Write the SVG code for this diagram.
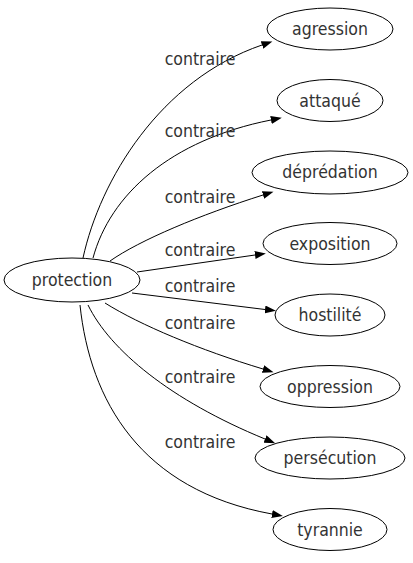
<svg xmlns="http://www.w3.org/2000/svg" width="413" height="563" viewBox="0 0 413 563">
<defs>
<style>
.n ellipse{fill:#fff;stroke:#000;stroke-width:1}
text{font-family:"DejaVu Sans Condensed","DejaVu Sans",sans-serif;font-stretch:condensed;font-size:17.5px;fill:#333;text-anchor:middle}
.e path{fill:none;stroke:#000;stroke-width:1}
</style>
<marker id="arr" markerWidth="12" markerHeight="8" refX="0" refY="4" orient="auto" markerUnits="userSpaceOnUse"><path d="M0,0 L11,4 L0,8 z" fill="#000"/></marker>
</defs>
<rect width="413" height="563" fill="#fff"/>
<g id="edges" class="e">
<path d="M83,258 C100,180 160,80 262,45" marker-end="url(#arr)"/>
<path d="M93,258 C110,195 170,140 271,120" marker-end="url(#arr)"/>
<path d="M110,261 C140,240 200,215 263,195" marker-end="url(#arr)"/>
<path d="M137,272 L255,255" marker-end="url(#arr)"/>
<path d="M132,293 L265,309.5" marker-end="url(#arr)"/>
<path d="M105,303 C140,325 200,350 263,369" marker-end="url(#arr)"/>
<path d="M88,305 C110,350 170,400 265,439" marker-end="url(#arr)"/>
<path d="M80,305 C90,400 140,490 272,514" marker-end="url(#arr)"/>
<text x="200" y="65">contraire</text>
<text x="200" y="137">contraire</text>
<text x="200" y="203">contraire</text>
<text x="200" y="256">contraire</text>
<text x="200" y="292">contraire</text>
<text x="200" y="329">contraire</text>
<text x="200" y="383">contraire</text>
<text x="200" y="448">contraire</text>
</g>
<g id="protection" class="n"><ellipse cx="72" cy="280" rx="68" ry="22"/><text x="72" y="286">protection</text></g>
<g id="agression" class="n"><ellipse cx="330" cy="29" rx="63" ry="21"/><text x="330" y="35">agression</text></g>
<g id="attaque" class="n"><ellipse cx="330" cy="100.5" rx="53" ry="21"/><text x="330" y="106.5">attaqué</text></g>
<g id="depredation" class="n"><ellipse cx="330" cy="172.5" rx="78" ry="21.5"/><text x="330" y="178">déprédation</text></g>
<g id="exposition" class="n"><ellipse cx="330" cy="243.5" rx="67" ry="21"/><text x="330" y="249.5">exposition</text></g>
<g id="hostilite" class="n"><ellipse cx="330" cy="315" rx="55" ry="21"/><text x="330" y="321">hostilité</text></g>
<g id="oppression" class="n"><ellipse cx="330" cy="386.5" rx="70" ry="21"/><text x="330" y="392.5">oppression</text></g>
<g id="persecution" class="n"><ellipse cx="330" cy="458" rx="75" ry="21"/><text x="330" y="464">persécution</text></g>
<g id="tyrannie" class="n"><ellipse cx="330" cy="529.5" rx="57" ry="21"/><text x="330" y="535.5">tyrannie</text></g>
</svg>
